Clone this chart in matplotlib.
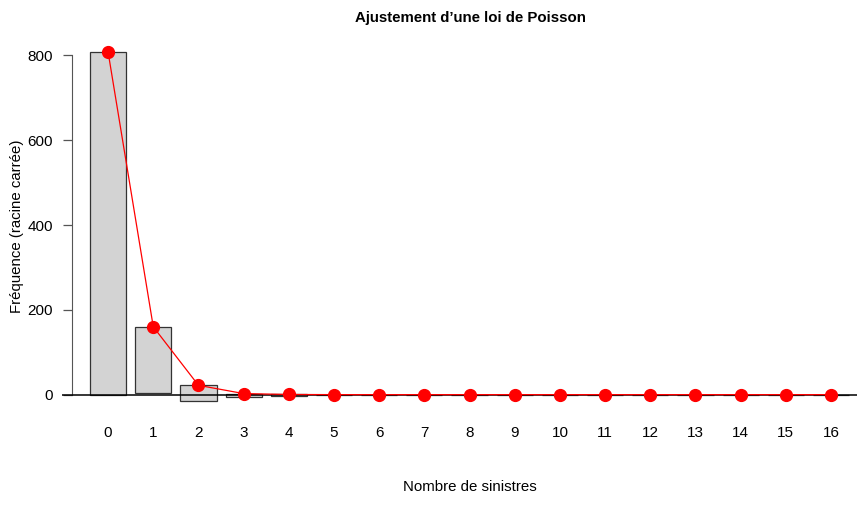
import numpy as np
import matplotlib
matplotlib.use("Agg")
import matplotlib.pyplot as plt

plt.rcParams['font.family'] = ['Liberation Sans', 'DejaVu Sans']

# nombre de sinistres, effectifs observes et ajustes (loi de Poisson)
sinistres = list(range(17))
ajuste = [808, 160, 22, 2.5, 0.4, 0.05, 0, 0, 0, 0, 0, 0, 0, 0, 0, 0, 0]
observe = [809, 155, 36, 8.5, 2.5, 2, 2, 0, 2, 2, 0, 2, 0, 0, 0, 0, 2]

x = np.array(sinistres)
top = np.array(ajuste)
bas = top - np.array(observe)

fig = plt.figure(figsize=(8.57, 5.05), dpi=100)
ax = fig.add_axes([62/857, 90/505, 816/857, 377/505])

# rootogramme suspendu : barres qui pendent de la courbe ajustee
ax.bar(x, top - bas, bottom=bas, width=0.8, color='#d3d3d3',
       edgecolor='#333333', linewidth=0.9, zorder=2)
ax.axhline(0, color='black', linewidth=1.1, zorder=3)
ax.plot(x, top, color='red', linewidth=0.9, zorder=4)
ax.plot(x, top, 'o', color='red', markersize=8.5, zorder=5)

ax.set_xlim(-1.02, 17.04)
ax.set_ylim(-48, 841)

for s in ['top', 'right', 'bottom']:
    ax.spines[s].set_visible(False)
ax.spines['left'].set_position(('axes', 10/816))
ax.spines['left'].set_bounds(0, 800)
ax.spines['left'].set_color('#555555')

ax.set_yticks([0, 200, 400, 600, 800])
ax.tick_params(axis='y', length=6.5, width=0.9, color='#555555', labelsize=11, pad=7)
ax.set_xticks(x)
ax.set_xticklabels([str(v) for v in sinistres])
ax.tick_params(axis='x', length=0, labelsize=11, pad=8)

ax.set_title("Ajustement d\u2019une loi de Poisson", fontsize=10.8, fontweight='bold', pad=11.5)
ax.set_xlabel("Nombre de sinistres", fontsize=10.8, labelpad=29)
ax.set_ylabel("Fréquence (racine carrée)", fontsize=10.8, labelpad=3)

fig.savefig('out.png', dpi=100)
